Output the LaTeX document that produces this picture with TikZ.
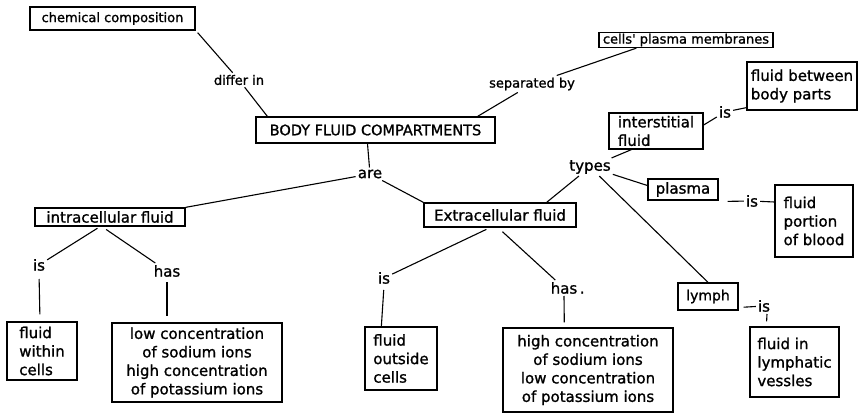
\documentclass[tikz,border=0pt]{standalone}
\usepackage{fontspec}
\setmainfont{DejaVu Sans}[FakeBold=1.2]
\begin{document}
\begin{tikzpicture}[x=1pt,y=-1pt,
  box/.style={draw, line width=1.3pt, inner sep=1pt, align=left, font=\fontsize{15}{18.5}\selectfont},
  cbox/.style={box, align=center},
  lbl/.style={inner sep=2pt, font=\fontsize{15}{17}\selectfont},
  conn/.style={line width=1.1pt}]
\useasboundingbox (0,0) rectangle (860,419);
% boxes
\node[box, minimum width=165pt, minimum height=23pt, font=\fontsize{13}{15}\selectfont] (chem) at (112.5,18.5) {chemical composition};
\node[box, minimum width=239pt, minimum height=26pt, font=\fontsize{14.5}{17}\selectfont] (body) at (375.5,130) {BODY FLUID COMPARTMENTS};
\node[box, minimum width=174pt, minimum height=15pt, inner sep=0.5pt, font=\fontsize{13}{15}\selectfont] (cells) at (686,40) {cells\textquotesingle{} plasma membranes};
\node[box, minimum width=110pt, minimum height=48pt] (fbp) at (802,86) {fluid between\\body parts};
\node[box, minimum width=94pt, minimum height=36pt] (inter) at (656,131) {interstitial\\fluid};
\node[box, minimum width=70pt, minimum height=21pt] (plasma) at (683,189.5) {plasma};
\node[box, minimum width=78pt, minimum height=72pt] (fpb) at (814,221) {fluid\\portion\\of blood};
\node[box, minimum width=60pt, minimum height=27pt, font=\fontsize{14}{17}\selectfont] (lymph) at (708,296.5) {lymph};
\node[box, minimum width=89pt, minimum height=70pt] (fil) at (794.5,362) {fluid in\\lymphatic\\vessles};
\node[box, minimum width=150pt, minimum height=18pt] (intra) at (110,217) {intracellular fluid};
\node[box, minimum width=70pt, minimum height=58pt] (fwc) at (42,351) {fluid\\within\\cells};
\node[cbox, minimum width=170pt, minimum height=79pt] (lowc) at (197,362.5) {low concentration\\of sodium ions\\high concentration\\of potassium ions};
\node[box, minimum width=152pt, minimum height=24pt] (extra) at (500,215) {Extracellular fluid};
\node[box, minimum width=72pt, minimum height=63pt] (foc) at (401,358.5) {fluid\\outside\\cells};
\node[cbox, minimum width=170pt, minimum height=84pt] (highc) at (588,370) {high concentration\\of sodium ions\\low concentration\\of potassium ions};
% labels
\node[lbl, font=\fontsize{13}{15}\selectfont] (differ) at (239,80) {differ in};
\node[lbl, font=\fontsize{13}{15}\selectfont] (sep) at (532,84) {separated by};
\node[lbl] (are) at (370,174) {are};
\node[lbl] (types) at (590,167) {types};
\node[lbl] (is1) at (725,112) {is};
\node[lbl] (is2) at (752,201) {is};
\node[lbl] (is3) at (764,306) {is};
\node[lbl] (is4) at (39,265) {is};
\node[lbl] (has1) at (167,271) {has};
\node[lbl] (is5) at (384,278) {is};
\node[lbl] (has2) at (564,288) {has\rlap{\,.}};
% connectors
\draw[conn] ([xshift=2pt,yshift=-2pt]chem.south east) -- (differ);
\draw[conn] (differ) -- ([xshift=12pt]body.north west);
\draw[conn] ([xshift=-18pt]body.north east) -- (sep);
\draw[conn] (sep) -- ([xshift=38pt]cells.south west);
\draw[conn] ([xshift=-8pt]body.south) -- (are);
\draw[conn] (are) -- (intra.north east);
\draw[conn] (are) -- (extra.north west);
\draw[conn] (types) -- ([xshift=-30pt]extra.north east);
\draw[conn] (types) -- ([xshift=23pt]inter.south west);
\draw[conn] (types) -- ([yshift=4pt]plasma.west);
\draw[conn] (types) -- (lymph.north);
\draw[conn] ([yshift=6pt]inter.east) -- (is1);
\draw[conn] (is1) -- ([yshift=3pt]fbp.south west);
\draw[conn, shorten <=9pt] ([yshift=-12pt]plasma.east) -- (is2);
\draw[conn] (is2) -- ([yshift=19pt]fpb.west);
\draw[conn, shorten <=5pt] ([yshift=-11pt]lymph.east) -- (is3);
\draw[conn, shorten >=5pt] ([xshift=3pt]is3.south) -- ([xshift=17pt]fil.north west);
\draw[conn, shorten <=3pt] ([xshift=-10pt]intra.south) -- (is4);
\draw[conn, shorten <=5pt] ([xshift=-8pt]intra.south) -- (has1);
\draw[conn, shorten <=6pt, shorten >=7pt] (is4.south) -- ([xshift=-2pt]fwc.north);
\draw[conn, shorten <=3pt, shorten >=6pt] (has1.south) -- ([xshift=-30pt]lowc.north);
\draw[conn, shorten <=4pt] ([xshift=-10pt]extra.south) -- (is5);
\draw[conn, shorten <=6pt] ([xshift=-2pt]extra.south) -- (has2);
\draw[conn, shorten <=4pt] (is5.south) -- ([xshift=17pt]foc.north west);
\draw[conn, shorten >=5pt] (has2.south) -- ([xshift=62pt]highc.north west);
\end{tikzpicture}
\end{document}
